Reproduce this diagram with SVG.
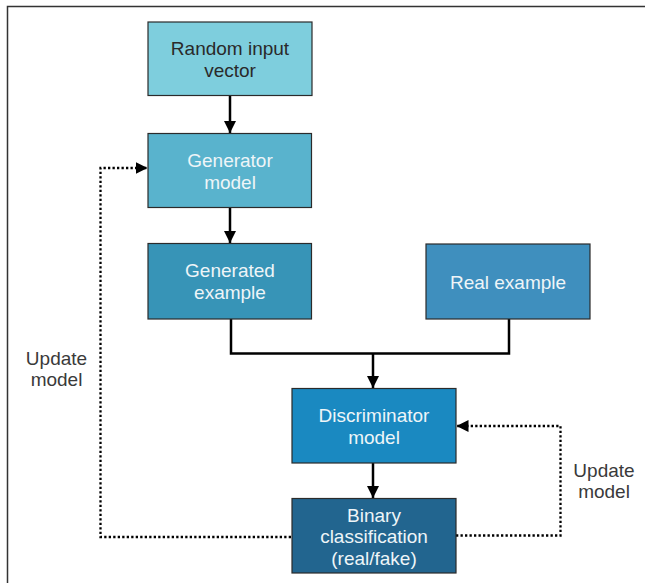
<svg xmlns="http://www.w3.org/2000/svg" width="645" height="583" viewBox="0 0 645 583">
<defs>
<style>
.box{stroke:#2b2b2b;stroke-width:1.2}
.t{font-family:"Liberation Sans",Arial,sans-serif;font-size:19px;text-anchor:middle}
.w{fill:#eef5f8}
.d{fill:#2a2a2a}
.lbl{fill:#3a3a3a}
.solid{fill:none;stroke:#000;stroke-width:2.5}
.dot{fill:none;stroke:#000;stroke-width:2.3;stroke-dasharray:2.3 2.2}
</style>
<marker id="ah" viewBox="0 0 12 12" markerWidth="12" markerHeight="12" refX="12" refY="6" orient="auto" markerUnits="userSpaceOnUse">
<path d="M0,0 L12,6 L0,12 Z" fill="#000"/>
</marker>
</defs>
<rect width="645" height="583" fill="#fff"/>
<path d="M7.5,583 V6.5 H645" fill="none" stroke="#333" stroke-width="1.5"/>

<g id="connectors">
<line class="solid" x1="230" y1="95.5" x2="230" y2="133" marker-end="url(#ah)"/>
<line class="solid" x1="230" y1="208" x2="230" y2="243" marker-end="url(#ah)"/>
<path class="solid" d="M231,319 V353.5 H509 V319"/>
<line class="solid" x1="373" y1="353.5" x2="373" y2="388" marker-end="url(#ah)"/>
<line class="solid" x1="373" y1="463" x2="373" y2="498" marker-end="url(#ah)"/>
<path class="dot" d="M291,537 H100.5 V168 H147.5" marker-end="url(#ah)"/>
<path class="dot" d="M456,535.5 H560.5 V426 H456.5" marker-end="url(#ah)"/>
</g>

<g id="random">
<rect class="box" x="148" y="22" width="164" height="73.5" fill="#7ecedd"/>
<text class="t d" x="230" y="55">Random input</text>
<text class="t d" x="230" y="77">vector</text>
</g>
<g id="generator">
<rect class="box" x="148" y="133.5" width="163.5" height="74" fill="#59b3cd"/>
<text class="t w" x="230" y="166.5">Generator</text>
<text class="t w" x="230" y="188.5">model</text>
</g>
<g id="generated">
<rect class="box" x="148" y="243.5" width="163.5" height="75.5" fill="#3794b7"/>
<text class="t w" x="230" y="277.3">Generated</text>
<text class="t w" x="230" y="299.3">example</text>
</g>
<g id="real">
<rect class="box" x="426" y="244" width="164" height="75" fill="#3f8fbe"/>
<text class="t w" x="508" y="289">Real example</text>
</g>
<g id="discriminator">
<rect class="box" x="292" y="388.5" width="164" height="74.5" fill="#1a89c1"/>
<text class="t w" x="374" y="421.7">Discriminator</text>
<text class="t w" x="374" y="443.7">model</text>
</g>
<g id="binary">
<rect class="box" x="292" y="498.5" width="164" height="74.5" fill="#22658f"/>
<text class="t w" x="374" y="521.7">Binary</text>
<text class="t w" x="374" y="543.3">classification</text>
<text class="t w" x="374" y="564.5">(real/fake)</text>
</g>
<g id="label-left">
<text class="t lbl" x="56.5" y="365">Update</text>
<text class="t lbl" x="56.5" y="386">model</text>
</g>
<g id="label-right">
<text class="t lbl" x="604" y="476.5">Update</text>
<text class="t lbl" x="604" y="497.5">model</text>
</g>
</svg>
